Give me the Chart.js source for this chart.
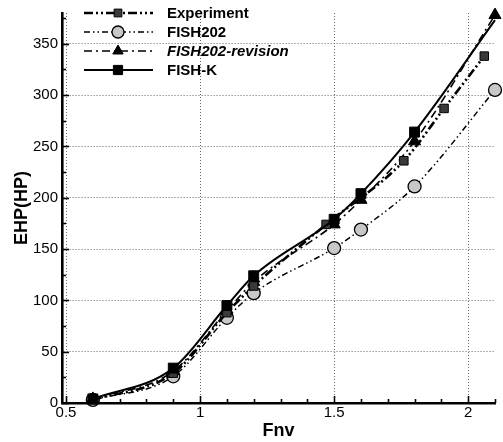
<!DOCTYPE html>
<html>
<head>
<meta charset="utf-8">
<script src="https://cdn.jsdelivr.net/npm/chart.js@4/dist/chart.umd.min.js"></script>
<style>
  html, body { margin: 0; padding: 0; background: #fff; }
  #wrap { width: 503px; height: 442px; position: relative; }
</style>
</head>
<body>
<div id="wrap"><canvas id="c" width="503" height="442"></canvas></div>
<script>
// ---- data ----
const seriesNames = ['Experiment', 'FISH202', 'FISH202-revision', 'FISH-K'];

const expFnv  = [0.6, 0.9, 1.1, 1.2, 1.47, 1.76, 1.91, 2.06];
const expEHP  = [3, 29, 88, 114, 174, 236, 287, 338];

const fish202Fnv = [0.6, 0.9, 1.1, 1.2, 1.5, 1.6, 1.8, 2.1];
const fish202EHP = [3, 26, 83, 107, 151, 169, 211, 305];

const revFnv = [0.6, 0.9, 1.1, 1.2, 1.5, 1.6, 1.8, 2.1];
const revEHP = [4, 31, 90, 118, 174, 198, 255, 378];

const fishKFnv = [0.6, 0.9, 1.1, 1.2, 1.5, 1.6, 1.8, 2.1];
const fishKEHP = [4, 34, 95, 124, 179, 204, 264, 373];

const xTickValues = [0.5, 1, 1.5, 2];
const xTickLabels = ['0.5', '1', '1.5', '2'];
const yTickValues = [0, 50, 100, 150, 200, 250, 300, 350];
const yTickLabels = ['0', '50', '100', '150', '200', '250', '300', '350'];

const xTitle = 'Fnv';
const yTitle = 'EHP(HP)';

// ---- build ----
const toPts = (xs, ys) => xs.map((x, i) => ({ x: x, y: ys[i] }));

const FONT = '"Liberation Sans", Arial, sans-serif';

const lastNoMarker = (r) => (ctx) => (ctx.dataIndex === ctx.dataset.data.length - 1 ? 0 : r);

const datasets = [
  {
    label: seriesNames[0], data: toPts(expFnv, expEHP),
    borderColor: '#000', borderWidth: 2.6, borderDash: [9, 3, 2, 3, 2, 3],
    pointStyle: 'rect', pointRadius: 6, pointBackgroundColor: '#3a3a3a',
    pointBorderColor: '#000', pointBorderWidth: 1, order: 2,
    legendItalic: false, legendRadius: 5.5
  },
  {
    label: seriesNames[1], data: toPts(fish202Fnv, fish202EHP),
    borderColor: '#000', borderWidth: 1.5, borderDash: [6, 3, 1.5, 3, 1.5, 3],
    pointStyle: 'circle', pointRadius: 6.5, pointBackgroundColor: '#c8c8c8',
    pointBorderColor: '#000', pointBorderWidth: 1.3, order: 4,
    legendItalic: false, legendRadius: 6
  },
  {
    label: seriesNames[2], data: toPts(revFnv, revEHP),
    borderColor: '#000', borderWidth: 1.6, borderDash: [8, 4, 2, 4],
    pointStyle: 'triangle', pointRadius: 7, pointBackgroundColor: '#000',
    pointBorderColor: '#000', pointBorderWidth: 1, order: 3,
    legendItalic: true, legendRadius: 6
  },
  {
    label: seriesNames[3], data: toPts(fishKFnv, fishKEHP),
    borderColor: '#000', borderWidth: 2, borderDash: [],
    pointStyle: 'rect', pointRadius: lastNoMarker(7), pointBackgroundColor: '#000',
    pointBorderColor: '#000', pointBorderWidth: 1, order: 1,
    legendItalic: false, legendRadius: 6.5
  }
];
datasets.forEach(d => { d.fill = false; d.cubicInterpolationMode = 'monotone'; d.showLine = true; d.clip = false; });

// custom legend + inward ticks
const decorPlugin = {
  id: 'decor',
  afterDatasetsDraw(chart) {
    const ctx = chart.ctx;
    const xs = chart.scales.x, ys = chart.scales.y;
    const ca = chart.chartArea;
    ctx.save();
    ctx.strokeStyle = '#000';
    ctx.lineWidth = 1.6;
    ctx.setLineDash([]);
    for (let k = 5; k <= 21; k++) {
      const v = k / 10;
      const px = Math.round(xs.getPixelForValue(v)) + 0.5;
      const major = (k % 5 === 0);
      ctx.beginPath();
      ctx.moveTo(px, ca.bottom);
      ctx.lineTo(px, ca.bottom - (major ? 7 : 4));
      ctx.stroke();
    }
    for (let v = 0; v <= 375; v += 25) {
      const py = Math.round(ys.getPixelForValue(v)) + 0.5;
      const major = (v % 50 === 0);
      ctx.beginPath();
      ctx.moveTo(ca.left, py);
      ctx.lineTo(ca.left + (major ? 7 : 4), py);
      ctx.stroke();
    }
    const rows = [13, 32, 51, 70];
    chart.data.datasets.forEach((ds, i) => {
      const y = rows[i];
      ctx.save();
      ctx.strokeStyle = ds.borderColor;
      ctx.lineWidth = ds.borderWidth;
      ctx.setLineDash(ds.borderDash || []);
      ctx.beginPath();
      ctx.moveTo(84, y);
      ctx.lineTo(153, y);
      ctx.stroke();
      ctx.setLineDash([]);
      ctx.fillStyle = ds.pointBackgroundColor;
      ctx.strokeStyle = ds.pointBorderColor;
      ctx.lineWidth = ds.pointBorderWidth;
      Chart.helpers.drawPoint(ctx, { pointStyle: ds.pointStyle, radius: ds.legendRadius, rotation: 0, borderWidth: ds.pointBorderWidth }, 118, y);
      ctx.fillStyle = '#000';
      ctx.font = (ds.legendItalic ? 'italic ' : '') + 'bold 15px ' + FONT;
      ctx.textBaseline = 'middle';
      ctx.textAlign = 'left';
      ctx.fillText(ds.label, 167, y + 1);
      ctx.restore();
    });
    ctx.restore();
  }
};

new Chart(document.getElementById('c'), {
  type: 'line',
  data: { datasets: datasets },
  plugins: [decorPlugin],
  options: {
    responsive: false,
    animation: false,
    devicePixelRatio: 1,
    layout: { padding: { top: 11, right: 5, left: 0, bottom: 0 } },
    plugins: { legend: { display: false }, tooltip: { enabled: false } },
    scales: {
      x: {
        type: 'linear', min: 0.485, max: 2.1,
        afterFit: (s) => { s.height = 39; },
        afterBuildTicks: (s) => { s.ticks = xTickValues.map(v => ({ value: v })); },
        ticks: {
          callback: (v) => { const i = xTickValues.indexOf(v); return i >= 0 ? xTickLabels[i] : ''; },
          color: '#000', font: { family: FONT, size: 15 }, padding: 1, maxRotation: 0, autoSkip: false
        },
        grid: { color: '#666', lineWidth: 1, tickLength: 0, drawTicks: false },
        border: { display: true, color: '#000', width: 2.6, dash: [1, 2] },
        title: { display: true, text: xTitle, color: '#000', font: { family: FONT, size: 18, weight: 'bold' }, padding: { top: 0, bottom: 0 } }
      },
      y: {
        type: 'linear', min: 0, max: 380,
        afterFit: (s) => { s.width = 62; },
        afterBuildTicks: (s) => { s.ticks = yTickValues.map(v => ({ value: v })); },
        ticks: {
          callback: (v) => { const i = yTickValues.indexOf(v); return i >= 0 ? yTickLabels[i] : ''; },
          color: '#000', font: { family: FONT, size: 15 }, padding: 4, autoSkip: false
        },
        grid: { color: '#666', lineWidth: 1, tickLength: 0, drawTicks: false },
        border: { display: true, color: '#000', width: 2.6, dash: [1, 2] },
        title: { display: true, text: yTitle, color: '#000', font: { family: FONT, size: 18, weight: 'bold' }, padding: { top: 11, bottom: 0 } }
      }
    }
  }
});
</script>
</body>
</html>
